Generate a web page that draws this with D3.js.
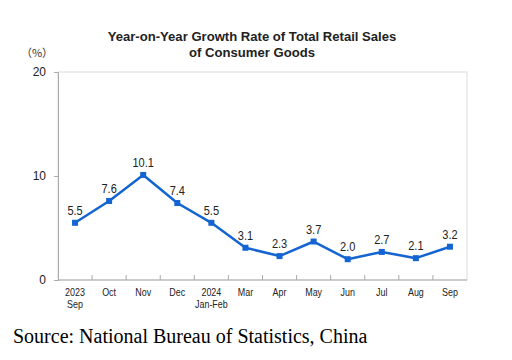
<!DOCTYPE html>
<html><head><meta charset="utf-8">
<script src="https://cdn.jsdelivr.net/npm/d3@7"></script>
<style>body{margin:0;background:#fff;}svg{display:block;}</style>
</head><body>
<script>
const categories = [["2023","Sep"],["Oct"],["Nov"],["Dec"],["2024","Jan-Feb"],["Mar"],["Apr"],["May"],["Jun"],["Jul"],["Aug"],["Sep"]];
const values = [5.5,7.6,10.1,7.4,5.5,3.1,2.3,3.7,2.0,2.7,2.1,3.2];
const yTicks = [0,10,20];
const titleLines = ["Year-on-Year Growth Rate of Total Retail Sales","of Consumer Goods"];
const sourceText = "Source: National Bureau of Statistics, China";

(function(){
const W=512,H=360;
const svg=d3.select("body").append("svg").attr("width",W).attr("height",H);
const pL=58,pR=467,pT=72,pB=280;
const x=d3.scaleBand().domain(d3.range(categories.length)).range([pL,pR]);
const y=d3.scaleLinear().domain([0,20]).range([pB,pT]);
const sans="Liberation Sans, Arial, sans-serif";
const blue="#1464d2";

svg.append("rect").attr("x",pL).attr("y",pT).attr("width",pR-pL).attr("height",pB-pT)
  .attr("fill","none").attr("stroke","#dcdcdc").attr("stroke-width",1);

const ya=svg.append("g").attr("transform",`translate(${pL},0)`)
  .call(d3.axisLeft(y).tickValues(yTicks).tickSize(4).tickPadding(8));
ya.select(".domain").attr("stroke","#aaa");
ya.selectAll(".tick line").attr("stroke","#aaa");
ya.selectAll("text").attr("font-family",sans).attr("font-size",12).attr("fill","#222");

const xa=svg.append("g").attr("transform",`translate(0,${pB})`);
xa.append("line").attr("x1",pL).attr("x2",pR).attr("stroke","#aaa");
const bounds=d3.range(categories.length+1).map(i=>pL+i*x.bandwidth());
xa.selectAll("line.t").data(bounds.slice(1,-1)).join("line").attr("class","t")
  .attr("x1",d=>d).attr("x2",d=>d).attr("y1",0).attr("y2",-5).attr("stroke","#aaa");
const cx=i=>x(i)+x.bandwidth()/2;
const lab=xa.selectAll("text").data(categories).join("text")
  .attr("y",16.5).attr("text-anchor","middle").attr("font-family",sans).attr("font-size",10.5).attr("fill","#222")
  .attr("transform",(d,i)=>`translate(${cx(i)},0) scale(0.85,1)`);
lab.each(function(d){
  const t=d3.select(this);
  d.forEach((s,j)=>t.append("tspan").attr("x",0).attr("dy",j?11.5:0).text(s));
});

svg.append("path").datum(values).attr("fill","none").attr("stroke",blue).attr("stroke-width",2.5)
  .attr("stroke-linejoin","round")
  .attr("d",d3.line().x((d,i)=>cx(i)).y(d=>y(d)));
svg.selectAll("rect.m").data(values).join("rect").attr("class","m")
  .attr("x",(d,i)=>cx(i)-3).attr("y",d=>y(d)-3).attr("width",6).attr("height",6).attr("fill",blue);
svg.selectAll("text.v").data(values).join("text").attr("class","v")
  .attr("text-anchor","middle")
  .attr("transform",(d,i)=>`translate(${cx(i)},${y(d)-8}) scale(0.92,1)`)
  .attr("font-family",sans).attr("font-size",12).attr("fill","#222").text(d=>d.toFixed(1));

svg.append("text").attr("x",37).attr("y",57).attr("text-anchor","middle")
  .attr("font-family","Noto Sans CJK SC, sans-serif").attr("font-size",11).attr("fill","#333").text("（%）");

svg.append("g").selectAll("text").data(titleLines).join("text")
  .attr("x",252).attr("y",(d,i)=>41+i*16).attr("text-anchor","middle")
  .attr("font-family",sans).attr("font-weight","bold").attr("font-size",13.1).attr("fill","#222").text(d=>d);

svg.append("text").attr("x",13).attr("y",343).attr("font-family","Liberation Serif, Times New Roman, serif")
  .attr("font-size",20).attr("fill","#000").text(sourceText);
})();
</script>
</body></html>
